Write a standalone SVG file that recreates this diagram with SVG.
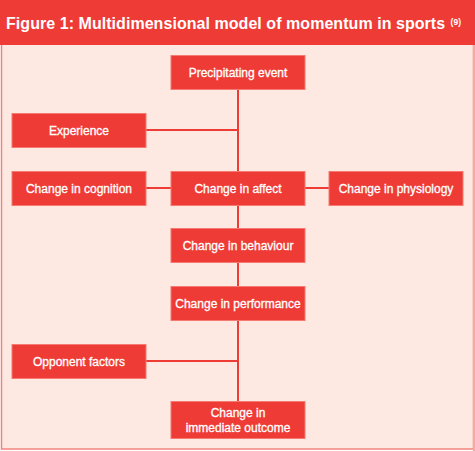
<svg xmlns="http://www.w3.org/2000/svg" width="475" height="451" viewBox="0 0 475 451">
<style>
.box{fill:#EF3B36;stroke:#F47A72;stroke-width:1}
.lbl{font-family:"Liberation Sans",Arial,sans-serif;font-size:12px;fill:#FFFFFF;stroke:#FFFFFF;stroke-width:0.3;text-anchor:middle;dominant-baseline:central}
.conn{stroke:#EF3B36;stroke-width:2;fill:none}
</style>
<rect x="0" y="0" width="475" height="451" fill="#FFFFFF"/>
<rect x="1.5" y="44" width="472" height="405" fill="#FDE9E1" stroke="#F2847D" stroke-width="1.5"/>
<rect x="473" y="44" width="2" height="407" fill="#F5AAA5"/>
<rect x="0" y="0" width="475" height="45" fill="#EF3B36"/>
<text x="6" y="28.5" font-family="'Liberation Sans',Arial,sans-serif" font-weight="bold" font-size="16" fill="#FFFFFF" letter-spacing="0.05">Figure 1: Multidimensional model of momentum in sports</text>
<text x="461" y="25" text-anchor="end" font-family="'Liberation Sans',Arial,sans-serif" font-weight="bold" font-size="8.5" fill="#FFFFFF">(9)</text>
<g id="connectors">
<line class="conn" x1="238" y1="89" x2="238" y2="401"/>
<line class="conn" x1="146" y1="130" x2="238" y2="130"/>
<line class="conn" x1="146" y1="188" x2="171" y2="188"/>
<line class="conn" x1="305" y1="188" x2="329" y2="188"/>
<line class="conn" x1="146" y1="361" x2="238" y2="361"/>
</g>
<g id="precipitating">
<rect class="box" x="171" y="55.5" width="134" height="34"/>
<text class="lbl" x="238" y="72.5">Precipitating event</text>
</g>
<g id="experience">
<rect class="box" x="12" y="113.5" width="134" height="34"/>
<text class="lbl" x="79" y="130.5">Experience</text>
</g>
<g id="cognition">
<rect class="box" x="12" y="171.5" width="134" height="34"/>
<text class="lbl" x="79" y="188.5">Change in cognition</text>
</g>
<g id="affect">
<rect class="box" x="171" y="171.5" width="134" height="34"/>
<text class="lbl" x="238" y="188.5">Change in affect</text>
</g>
<g id="physiology">
<rect class="box" x="329" y="171.5" width="134" height="34"/>
<text class="lbl" x="396" y="188.5">Change in physiology</text>
</g>
<g id="behaviour">
<rect class="box" x="171" y="228.5" width="134" height="34"/>
<text class="lbl" x="238" y="245.5">Change in behaviour</text>
</g>
<g id="performance">
<rect class="box" x="171" y="286.5" width="134" height="34"/>
<text class="lbl" x="238" y="303.5">Change in performance</text>
</g>
<g id="opponent">
<rect class="box" x="12" y="344.5" width="134" height="34"/>
<text class="lbl" x="79" y="361.5">Opponent factors</text>
</g>
<g id="outcome">
<rect class="box" x="171" y="401.5" width="134" height="37"/>
<text class="lbl" x="238" y="413">Change in</text>
<text class="lbl" x="238" y="428">immediate outcome</text>
</g>
</svg>
